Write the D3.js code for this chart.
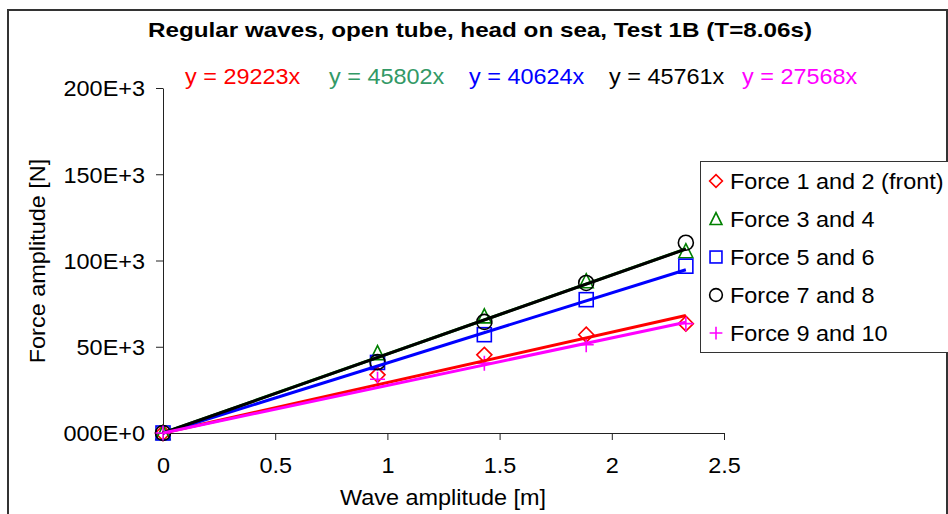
<!DOCTYPE html>
<html><head><meta charset="utf-8">
<script src="https://cdn.jsdelivr.net/npm/d3@7"></script>
<style>
html,body{margin:0;padding:0;background:#fff;}
svg{display:block;font-family:"Liberation Sans",Arial,sans-serif;}
</style></head>
<body>
<svg id="chart" width="948" height="514"></svg>
<script>
// ---- data ----
const waveAmp = [0, 0.956, 1.432, 1.886, 2.33];
const seriesNames = ["Force 1 and 2 (front)", "Force 3 and 4", "Force 5 and 6", "Force 7 and 8", "Force 9 and 10"];
const force12 = [0, 33700, 45300, 57000, 63400];
const force34 = [0, 46300, 67600, 88000, 105400];
const force56 = [0, 40900, 57000, 77300, 96700];
const force78 = [0, 41100, 64400, 87000, 110300];
const force910 = [0, 31200, 40500, 51200, 63400];
const slopes = [29223, 45802, 40624, 45761, 27568];
const equationLabels = ["y = 29223x", "y = 45802x", "y = 40624x", "y = 45761x", "y = 27568x"];
const xTicks = [0, 0.5, 1, 1.5, 2, 2.5];
const yTicks = [0, 50000, 100000, 150000, 200000];
const yTickLabels = ["000E+0", "50E+3", "100E+3", "150E+3", "200E+3"];

// ---- style ----
const markerColors = ["#FF0000", "#008000", "#0000FF", "#000000", "#FF00FF"];
const lineColors = ["#FF0000", "#008000", "#0000FF", "#000000", "#FF00FF"];
const eqColors = ["#FF0000", "#339966", "#0000FF", "#000000", "#FF00FF"];
const markerTypes = ["diamond", "triangle", "square", "circle", "plus"];
const allForces = [force12, force34, force56, force78, force910];

const svg = d3.select("#chart");
const SX = 1.09;
const FS = 21.5;
function stretch(sel, target) {
  sel.each(function () {
    const w = this.getComputedTextLength();
    d3.select(this).attr("textLength", target || w * SX).attr("lengthAdjust", "spacingAndGlyphs");
  });
  return sel;
}

// outer border
svg.append("path").attr("d", "M8,520 V10 H947 V520").attr("fill", "none").attr("stroke", "#333").attr("stroke-width", 2);

const x = d3.scaleLinear().domain([0, 2.5]).range([163, 724]);
const y = d3.scaleLinear().domain([0, 200000]).range([433, 88]);

// axes
const xAxis = d3.axisBottom(x).tickValues(xTicks).tickSize(7).tickSizeOuter(0).tickPadding(14).tickFormat(d3.format("~g"));
const gx = svg.append("g").attr("transform", "translate(0,433)").call(xAxis);
const yAxis = d3.axisLeft(y).tickValues(yTicks).tickSize(7).tickSizeOuter(0).tickPadding(11)
  .tickFormat((d, i) => yTickLabels[i]);
const gy = svg.append("g").attr("transform", "translate(163,0)").call(yAxis);
[gx, gy].forEach(g => {
  g.select(".domain").attr("stroke", "#222").attr("stroke-width", 1);
  g.selectAll(".tick line").attr("stroke", "#222");
  g.selectAll(".tick text").attr("font-size", FS).attr("fill", "#000")
    .attr("font-family", '"Liberation Sans",Arial,sans-serif');
});
gx.selectAll(".tick text").attr("dy", "0.9em");
gy.selectAll(".tick text").attr("dy", "0.36em");
stretch(gx.selectAll(".tick text"));
stretch(gy.selectAll(".tick text"));

// axis titles
stretch(svg.append("text").attr("x", 443).attr("y", 505).attr("text-anchor", "middle")
  .attr("font-size", FS).text("Wave amplitude [m]"));
stretch(svg.append("text").attr("transform", "translate(45,261) rotate(-90)").attr("text-anchor", "middle")
  .attr("font-size", FS).text("Force amplitude [N]"));

// title
stretch(svg.append("text").attr("x", 480).attr("y", 37).attr("text-anchor", "middle")
  .attr("font-size", 20.5).attr("font-weight", "bold").text("Regular waves, open tube, head on sea, Test 1B (T=8.06s)"), 664);

// equations
const eqX = [185, 329, 469, 609, 742];
equationLabels.forEach((t, i) => {
  stretch(svg.append("text").attr("x", eqX[i]).attr("y", 84).attr("font-size", FS)
    .attr("fill", eqColors[i]).text(t));
});

// markers
function marker(g, type, cx, cy, color, k) {
  const s = 7.5 * k;
  if (type === "diamond") g.append("path").attr("d", `M${cx},${cy - s} L${cx + s},${cy} L${cx},${cy + s} L${cx - s},${cy} Z`);
  else if (type === "triangle") g.append("path").attr("d", `M${cx},${cy - 7.5 * k} L${cx + 7 * k},${cy + 6.5 * k} L${cx - 7 * k},${cy + 6.5 * k} Z`);
  else if (type === "square") g.append("rect").attr("x", cx - 7 * k).attr("y", cy - 7 * k).attr("width", 14 * k).attr("height", 14 * k);
  else if (type === "circle") g.append("circle").attr("cx", cx).attr("cy", cy).attr("r", 7.5 * k);
  else if (type === "plus") g.append("path").attr("d", `M${cx - 7.5 * k},${cy} H${cx + 7.5 * k} M${cx},${cy - 7.5 * k} V${cy + 7.5 * k}`);
  g.selectAll("*").attr("fill", "none").attr("stroke", color).attr("stroke-width", 1.6);
}
allForces.forEach((vals, si) => {
  vals.forEach((v, j) => {
    const g = svg.append("g");
    marker(g, markerTypes[si], x(waveAmp[j]), y(v), markerColors[si], 1);
  });
});

// trendlines
const xMax = d3.max(waveAmp);
[0, 1, 2, 3, 4].forEach(si => {
  svg.append("line").attr("x1", x(0)).attr("y1", y(0)).attr("x2", x(xMax)).attr("y2", y(slopes[si] * xMax))
    .attr("stroke", lineColors[si]).attr("stroke-width", 3);
});

// legend
svg.append("rect").attr("x", 700.5).attr("y", 161.5).attr("width", 270).attr("height", 191)
  .attr("fill", "#fff").attr("stroke", "#333").attr("stroke-width", 1);
seriesNames.forEach((n, i) => {
  const cy = 181 + i * 38;
  const g = svg.append("g");
  marker(g, markerTypes[i], 716, cy, markerColors[i], 0.85);
  stretch(svg.append("text").attr("x", 730).attr("y", cy).attr("dy", "0.36em").attr("font-size", FS).text(n));
});
</script>
</body></html>
